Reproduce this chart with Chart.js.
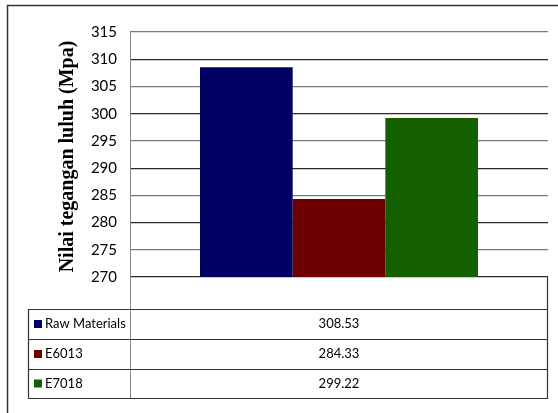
<!DOCTYPE html>
<html>
<head>
<meta charset="utf-8">
<script src="https://cdn.jsdelivr.net/npm/chart.js@4"></script>
<style>
    html, body { margin: 0; padding: 0; background: #fff; overflow: hidden; }
    #wrap { width: 558px; height: 413px; }
</style>
</head>
<body>
<div id="wrap"><canvas id="graphique"></canvas></div>
<script>
const categories = [""];
const series = ["Raw Materials", "E6013", "E7018"];
const valeurs = [[308.53], [284.33], [299.22]];
const couleurs = ["#000062", "#6e0000", "#146000"];
const yTicks = { min: 270, max: 315, step: 5 };
const titreY = "Nilai tegangan luluh (Mpa)";

const policeTexte = "Lato, 'DejaVu Sans Condensed', sans-serif";

// cadre, titre vertical et tableau de données façon Excel
const tableauPlugin = {
    id: "tableau",
    beforeDraw (chart) {
        const ctx = chart.ctx;
        ctx.save();
        ctx.fillStyle = "#fff";
        ctx.fillRect(0, 0, chart.width, chart.height);
        ctx.strokeStyle = "#333";
        ctx.lineWidth = 1.5;
        ctx.beginPath();
        ctx.moveTo(7.5, chart.height);
        ctx.lineTo(7.5, 5.5);
        ctx.lineTo(chart.width, 5.5);
        ctx.stroke();
        ctx.restore();
    },
    afterDraw (chart) {
        const ctx = chart.ctx;
        const { left, right, top, bottom } = chart.chartArea;
        const tabLeft = 28;
        const rows = [bottom, bottom + 32, bottom + 62, bottom + 92, bottom + 121];

        ctx.save();
        // titre de l'axe
        ctx.translate(68, (top + bottom) / 2 + 2);
        ctx.rotate(-Math.PI / 2);
        ctx.font = "bold 20px 'Liberation Serif', serif";
        ctx.fillStyle = "#000";
        ctx.textAlign = "center";
        ctx.textBaseline = "middle";
        ctx.fillText(titreY, 0, 0);
        ctx.restore();

        ctx.save();
        // axe vertical gauche jusqu'au bas du tableau
        ctx.strokeStyle = "#888";
        ctx.lineWidth = 1;
        ctx.beginPath();
        ctx.moveTo(left + 0.5, top);
        ctx.lineTo(left + 0.5, rows[4]);
        ctx.stroke();

        ctx.strokeStyle = "#333";
        ctx.lineWidth = 1.2;
        ctx.beginPath();
        for (let i = 1; i < rows.length; i++) {
            ctx.moveTo(tabLeft, rows[i] + 0.5);
            ctx.lineTo(right, rows[i] + 0.5);
        }
        ctx.moveTo(tabLeft + 0.5, rows[1]);
        ctx.lineTo(tabLeft + 0.5, rows[4]);
        ctx.moveTo(right - 0.5, rows[0]);
        ctx.lineTo(right - 0.5, rows[4] + 1);
        ctx.stroke();

        const xs = chart.scales.x;
        ctx.font = "13px " + policeTexte;
        ctx.textBaseline = "middle";
        chart.data.datasets.forEach((ds, i) => {
            const yMid = (rows[i + 1] + rows[i + 2]) / 2;
            ctx.fillStyle = ds.backgroundColor;
            ctx.fillRect(tabLeft + 6, yMid - 4, 8, 8);
            ctx.fillStyle = "#000";
            ctx.textAlign = "left";
            ctx.fillText(ds.label, tabLeft + 17, yMid);
            ds.data.forEach((v, j) => {
                ctx.textAlign = "center";
                ctx.fillText(v.toFixed(2), xs.getPixelForValue(j), yMid);
            });
        });
        ctx.restore();
    }
};

const datasets = series.map((nom, i) => ({
    label: nom,
    data: valeurs[i],
    backgroundColor: couleurs[i],
    borderWidth: 0,
    categoryPercentage: 0.665,
    barPercentage: 1
}));

new Chart(document.getElementById("graphique"), {
    type: "bar",
    data: { labels: categories, datasets: datasets },
    plugins: [tableauPlugin],
    options: {
        responsive: true,
        maintainAspectRatio: false,
        animation: false,
        layout: { padding: { top: 32, right: 10, bottom: 136, left: 0 } },
        plugins: {
            legend: { display: false },
            tooltip: { enabled: false }
        },
        scales: {
            x: {
                ticks: { display: false },
                grid: { display: false, drawTicks: false },
                border: { display: false }
            },
            y: {
                min: yTicks.min,
                max: yTicks.max,
                afterFit: (scale) => { scale.width = 130; },
                ticks: {
                    stepSize: yTicks.step,
                    padding: 13,
                    color: "#000",
                    font: { size: 15, family: policeTexte }
                },
                grid: {
                    drawTicks: false,
                    lineWidth: 1.2,
                    color: (c) => (c.tick && c.tick.value % 10 === 0) ? "#2a2a2a" : "#7a7a7a"
                },
                border: { display: false }
            }
        }
    }
});
</script>
</body>
</html>
